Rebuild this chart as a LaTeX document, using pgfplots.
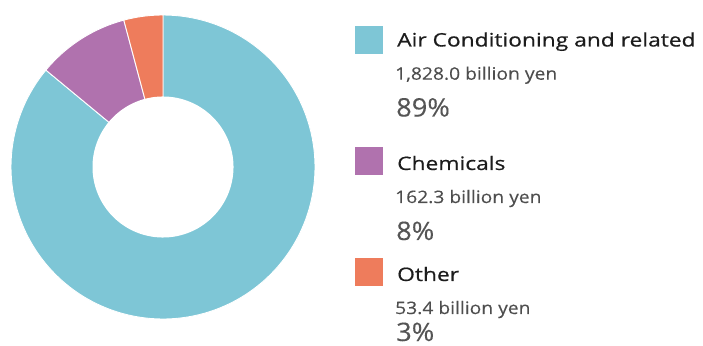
\documentclass[border=0pt]{standalone}
\usepackage{pgfplots}
\pgfplotsset{compat=1.18}
\usepackage{fontspec}
\setmainfont{Open Sans}
\newfontfamily\titlefont[FakeStretch=1.225, FakeBold=0.6]{Open Sans}
\newfontfamily\subfont[FakeStretch=1.12, FakeBold=0.2]{Open Sans}
\newfontfamily\pctfont[FakeStretch=1.07, FakeBold=0.2]{Open Sans}
\definecolor{cAC}{RGB}{126,198,214}
\definecolor{cCH}{RGB}{176,114,174}
\definecolor{cOT}{RGB}{238,124,92}
\definecolor{tTitle}{RGB}{28,28,28}
\definecolor{tSub}{RGB}{78,78,78}
\definecolor{tPct}{RGB}{85,85,85}
\begin{document}
\begin{tikzpicture}[x=1pt,y=1pt]
\path[use as bounding box] (0,0) rectangle (703,345);
% slice shares as drawn (percent of the ring)
\def\sAC{86.0}
\def\sCH{9.85}
\def\sOT{4.15}
\pgfmathsetmacro\aA{90-3.6*\sAC}
\pgfmathsetmacro\aB{\aA-3.6*\sCH}
\pgfmathsetmacro\aC{\aB-3.6*\sOT}
\begin{axis}[
  at={(11pt,26pt)}, anchor=south west,
  scale only axis, width=304pt, height=304pt,
  xmin=-1, xmax=1, ymin=-1, ymax=1,
  axis lines=none, clip=false,
]
\addplot[fill=cAC, draw=white, line width=0.9pt, domain=\aA:90, samples=150] ({cos(x)},{sin(x)}) -- (axis cs:0,0) -- cycle;
\addplot[fill=cCH, draw=white, line width=0.9pt, domain=\aB:\aA, samples=30] ({cos(x)},{sin(x)}) -- (axis cs:0,0) -- cycle;
\addplot[fill=cOT, draw=white, line width=0.9pt, domain=\aC:\aB, samples=20] ({cos(x)},{sin(x)}) -- (axis cs:0,0) -- cycle;
\addplot[fill=white, draw=none, domain=0:360, samples=120] ({0.464*cos(x)},{0.464*sin(x)}) -- cycle;
\end{axis}
% legend
\fill[cAC] (355,291) rectangle (383,319);
\fill[cCH] (355,170) rectangle (383,198);
\fill[cOT] (355,59) rectangle (383,87);
\tikzset{
  ttl/.style={anchor=base west, inner sep=0, text=tTitle, font=\titlefont\fontsize{18.6}{18.6}\selectfont},
  sub/.style={anchor=base west, inner sep=0, text=tSub, font=\subfont\fontsize{17.2}{17.2}\selectfont},
  pct/.style={anchor=base west, inner sep=0, text depth=0pt, text=tPct, font=\pctfont\fontsize{25.5}{25.5}\selectfont},
}
\node[ttl] at (397,298.5) {Air Conditioning and related};
\node[sub] at (395,265.3) {1,828.0 billion yen};
\node[pct] at (396,228.5) {89\%};
\node[ttl] at (397,175) {Chemicals};
\node[sub] at (395,142) {162.3 billion yen};
\node[pct] at (396,105) {8\%};
\node[ttl] at (397,64) {Other};
\node[sub] at (395,31) {53.4 billion yen};
\node[pct] at (396,4) {3\%};
\end{tikzpicture}
\end{document}
